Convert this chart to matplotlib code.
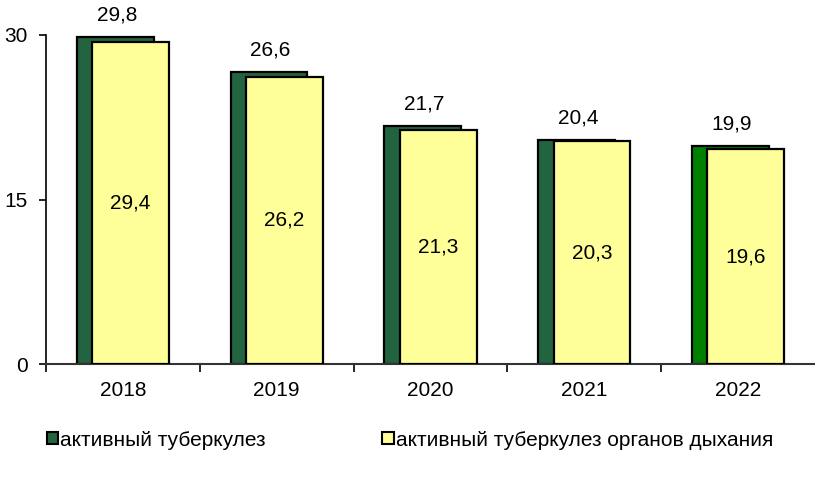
import matplotlib.pyplot as plt
import numpy as np
from matplotlib.patches import Patch

plt.rcParams['font.family'] = ['Liberation Sans', 'DejaVu Sans']

# data
years = ['2018', '2019', '2020', '2021', '2022']
active_tb = [29.8, 26.6, 21.7, 20.4, 19.9]
resp_tb = [29.4, 26.2, 21.3, 20.3, 19.6]
labels = ['активный туберкулез', 'активный туберкулез органов дыхания']

green_cols = ['#22643f', '#22643f', '#22643f', '#22643f', '#008000']
yellow = '#ffff99'
fs = 15

fig = plt.figure(figsize=(8.15, 4.83), dpi=100)
ax = fig.add_axes([46 / 815, 119 / 483, 1 - 46 / 815, 329 / 483])

x = np.arange(len(years))
w = 0.5
ax.bar(x - 0.05, active_tb, w, color=green_cols, edgecolor='black', linewidth=1.6, zorder=2)
ax.bar(x + 0.05, resp_tb, w, color=yellow, edgecolor='black', linewidth=1.6, zorder=3)

# labels
for i in range(len(years)):
    ax.annotate(f'{active_tb[i]:.1f}'.replace('.', ','), (x[i] - 0.04, active_tb[i]),
                xytext=(0, 16), textcoords='offset points', ha='center', va='center', fontsize=fs)
    ax.text(x[i] + 0.05, resp_tb[i] / 2, f'{resp_tb[i]:.1f}'.replace('.', ','),
            ha='center', va='center', fontsize=fs, zorder=4)

ax.set_xlim(-0.5, 4.5)
ax.set_ylim(0, 30)
ax.set_yticks([0, 15, 30])
ax.tick_params(axis='y', direction='out', length=5, width=1.2, labelsize=fs, pad=8)

ax.set_xticks(x)
ax.set_xticklabels(years)
ax.tick_params(axis='x', which='major', length=0, labelsize=fs, pad=12)
ax.set_xticks(np.arange(-0.5, 4.5, 1), minor=True)
ax.tick_params(axis='x', which='minor', direction='out', length=6, width=1.2)

for s in ['top', 'right']:
    ax.spines[s].set_visible(False)
ax.spines['left'].set_linewidth(1.2)
ax.spines['bottom'].set_linewidth(1.5)
ax.spines['bottom'].set_color('#333333')

handles = [Patch(facecolor='#22643f', edgecolor='black', linewidth=1.5),
           Patch(facecolor=yellow, edgecolor='black', linewidth=1.5)]
fig.legend(handles, labels, loc='center', bbox_to_anchor=(410 / 815, 43 / 483), ncol=2,
           frameon=False, fontsize=fs, handlelength=0.55, handleheight=0.55,
           handletextpad=0.1, columnspacing=5.6)

fig.savefig('out.png', dpi=100)
